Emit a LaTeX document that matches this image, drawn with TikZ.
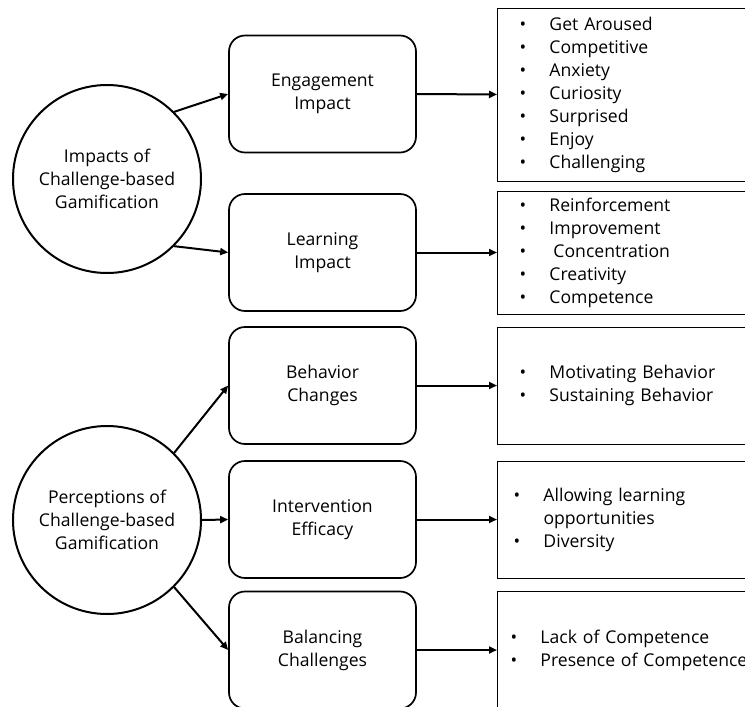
\documentclass[tikz,border=0pt]{standalone}
\usepackage{fontspec}
\setmainfont{Open Sans}
\usepackage{tikz}
\usetikzlibrary{arrows.meta}

\newcommand{\itm}[1]{\makebox[30pt][l]{\textbullet}#1}

\begin{document}
\begin{tikzpicture}[x=1pt, y=-1pt,
	every node/.style={font=\fontsize{17.6}{23}\selectfont},
	hub/.style={draw, circle, line width=2pt, minimum size=188pt, inner sep=0pt, align=center},
	theme/.style={draw, rounded corners=16pt, line width=1.7pt, minimum width=187pt, minimum height=117pt, align=center},
	items/.style={draw, line width=1pt, anchor=west, minimum width=280pt, minimum height=#1, text width=236pt, inner xsep=22pt, align=left},
	link/.style={-{Triangle[length=8pt, width=7pt]}, line width=2pt}
]
	\useasboundingbox (0,0) rectangle (745,707);

	\node[hub] (impact) at (107,179) {Impacts of\\Challenge-based\\Gamification};
	\node[hub] (percep) at (107,520) {Perceptions of\\Challenge-based\\Gamification};

	\node[theme] (engage) at (322.5,94) {Engagement\\Impact};
	\node[theme] (learn) at (322.5,252.5) {Learning\\Impact};
	\node[theme] (behav) at (322.5,385.5) {Behavior\\Changes};
	\node[theme] (interv) at (322.5,519.5) {Intervention\\Efficacy};
	\node[theme] (balan) at (322.5,650) {Balancing\\Challenges};

	\node[items=173pt] (feel) at (497,94.5) {\itm{Get Aroused}\\\itm{Competitive}\\\itm{Anxiety}\\\itm{Curiosity}\\\itm{Surprised}\\\itm{Enjoy}\\\itm{Challenging}};
	\node[items=123pt] (gain) at (497,252.5) {\itm{Reinforcement}\\\itm{Improvement}\\\itm{\hspace{4pt}Concentration}\\\itm{Creativity}\\\itm{Competence}};
	\node[items=117pt] (drive) at (497,385.5) {\itm{Motivating Behavior}\\\itm{Sustaining Behavior}};
	\node[items=117pt, inner xsep=16pt, text width=248pt] (chance) at (497,519.5) {\itm{Allowing learning}\\\hspace*{30pt}opportunities\\\itm{Diversity}};
	\node[items=118pt, inner xsep=13pt, text width=254pt] (level) at (497,650) {\itm{Lack of Competence}\\\itm{Presence of Competence}};

	\draw[link] (impact.45) -- (engage.west);
	\draw[link] (impact.-45) -- (learn.west);
	\draw[link] (percep.45) -- (behav.west);
	\draw[link] (percep.east) -- (interv.west);
	\draw[link] (percep.-45) -- (balan.west);

	\draw[link] (engage.east) -- (feel.west);
	\draw[link] (learn.east) -- (gain.west);
	\draw[link] (behav.east) -- (drive.west);
	\draw[link] (interv.east) -- (chance.west);
	\draw[link] (balan.east) -- (level.west);
\end{tikzpicture}
\end{document}
